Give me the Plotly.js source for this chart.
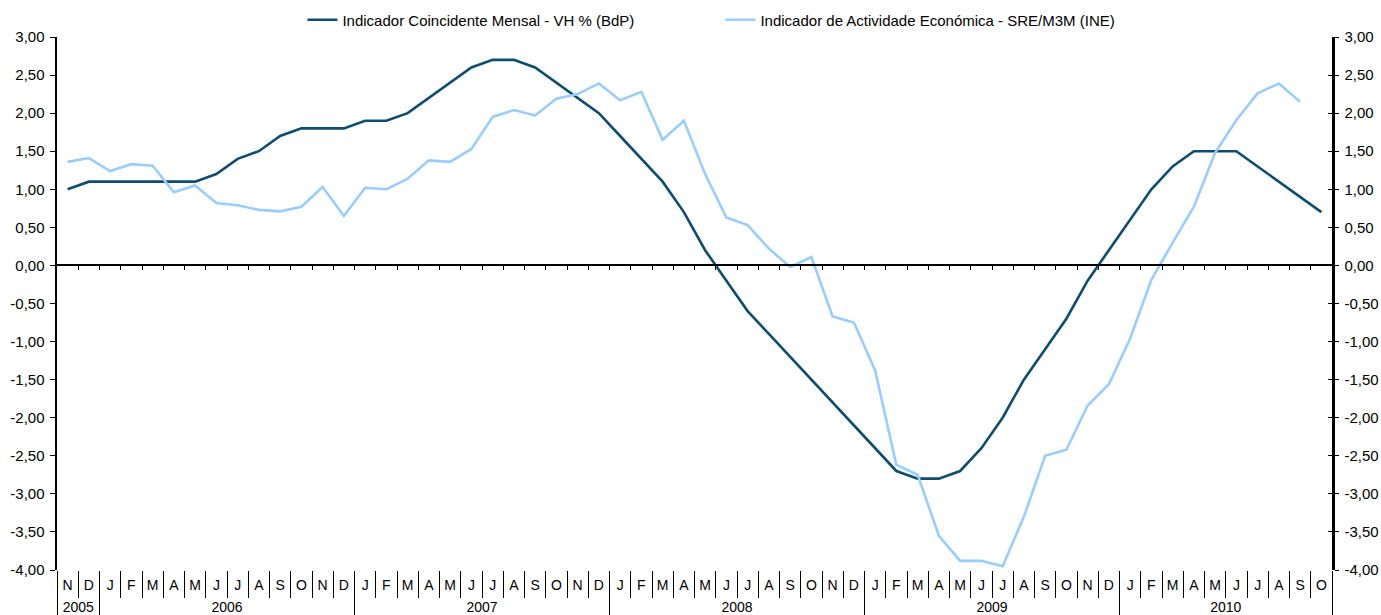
<!DOCTYPE html>
<html>
<head>
<meta charset="utf-8">
<script src="https://cdn.plot.ly/plotly-3.0.1.min.js"></script>
<style>
  html, body { margin: 0; padding: 0; background: #ffffff; }
  #chart { width: 1381px; height: 615px; }
</style>
</head>
<body>
<div id="chart"></div>
<script>
// ---- data ----
const monthLabels = [
  "N","D",
  "J","F","M","A","M","J","J","A","S","O","N","D",
  "J","F","M","A","M","J","J","A","S","O","N","D",
  "J","F","M","A","M","J","J","A","S","O","N","D",
  "J","F","M","A","M","J","J","A","S","O","N","D",
  "J","F","M","A","M","J","J","A","S","O"
];
const yearLabels = ["2005","2006","2007","2008","2009","2010"];
const monthsPerYear = [2, 12, 12, 12, 12, 10];

const seriesBdPName = "Indicador Coincidente Mensal - VH % (BdP)";
const seriesBdP = [
  1.0, 1.1,
  1.1, 1.1, 1.1, 1.1, 1.1, 1.2, 1.4, 1.5, 1.7, 1.8, 1.8, 1.8,
  1.9, 1.9, 2.0, 2.2, 2.4, 2.6, 2.7, 2.7, 2.6, 2.4, 2.2, 2.0,
  1.7, 1.4, 1.1, 0.7, 0.2, -0.2, -0.6, -0.9, -1.2, -1.5, -1.8, -2.1,
  -2.4, -2.7, -2.8, -2.8, -2.7, -2.4, -2.0, -1.5, -1.1, -0.7, -0.2, 0.2,
  0.6, 1.0, 1.3, 1.5, 1.5, 1.5, 1.3, 1.1, 0.9, 0.7
];

const seriesINEName = "Indicador de Actividade Económica - SRE/M3M (INE)";
const seriesINE = [
  1.36, 1.41,
  1.24, 1.33, 1.31, 0.96, 1.05, 0.82, 0.79, 0.73, 0.71, 0.77, 1.03, 0.65,
  1.02, 1.00, 1.14, 1.38, 1.36, 1.53, 1.95, 2.04, 1.97, 2.19, 2.25, 2.39,
  2.17, 2.28, 1.65, 1.90, 1.20, 0.63, 0.53, 0.22, -0.02, 0.11, -0.67, -0.75,
  -1.38, -2.62, -2.75, -3.55, -3.88, -3.88, -3.95, -3.30, -2.50, -2.42, -1.84, -1.56,
  -0.96, -0.19, 0.30, 0.77, 1.48, 1.91, 2.26, 2.39, 2.15, null
];

const yTickValues = [3, 2.5, 2, 1.5, 1, 0.5, 0, -0.5, -1, -1.5, -2, -2.5, -3, -3.5, -4];
const yTickLabels = ["3,00","2,50","2,00","1,50","1,00","0,50","0,00","-0,50","-1,00","-1,50","-2,00","-2,50","-3,00","-3,50","-4,00"];

// ---- derived positions (through axes) ----
const n = monthLabels.length;
const idx = monthLabels.map((_, i) => i);
const monthBounds = [];
for (let i = 0; i <= n; i++) monthBounds.push(i - 0.5);
const yearBounds = [-0.5];
const yearCenters = [];
let acc = 0;
monthsPerYear.forEach(c => {
  yearCenters.push(acc + (c - 1) / 2);
  acc += c;
  yearBounds.push(acc - 0.5);
});
const yMin = -4, yMax = 3;
const xRange = [-0.5, n - 0.5];

const FONT = "Liberation Sans, Arial, sans-serif";
const DARK = "#0e4d6d";
const LIGHT = "#99ccff";

// empty helper traces so that the decorative overlay axes get drawn
function helper(xa, ya) {
  return { x: [], y: [], type: "scatter", mode: "lines", xaxis: xa, yaxis: ya,
           showlegend: false, hoverinfo: "skip" };
}

const traces = [
  { x: idx, y: seriesBdP, name: seriesBdPName, type: "scatter", mode: "lines",
    line: { color: DARK, width: 2.6 }, xaxis: "x", yaxis: "y" },
  { x: idx, y: seriesINE, name: seriesINEName, type: "scatter", mode: "lines",
    line: { color: LIGHT, width: 2.6 }, xaxis: "x", yaxis: "y", connectgaps: false },
  helper("x2", "y"), helper("x3", "y"), helper("x4", "y"), helper("x5", "y"),
  helper("x", "y2"), helper("x", "y3")
];

const baseX = { range: xRange, showgrid: false, zeroline: false, fixedrange: true };

const layout = {
  width: 1381, height: 615,
  margin: { l: 57, r: 49, t: 37, b: 45, pad: 0, autoexpand: false },
  paper_bgcolor: "#ffffff", plot_bgcolor: "#ffffff",
  font: { family: FONT, size: 14, color: "#000000" },
  showlegend: true,
  legend: {
    orientation: "h", x: 0.1925, xanchor: "left", y: 1.032, yanchor: "middle",
    font: { family: FONT, size: 15, color: "#000000" },
    entrywidth: 373, entrywidthmode: "pixels",
    bgcolor: "rgba(0,0,0,0)", borderwidth: 0
  },
  // month labels
  xaxis: Object.assign({}, baseX, {
    type: "linear", anchor: "y", side: "bottom",
    tickmode: "array", tickvals: idx, ticktext: monthLabels,
    ticks: "", showline: false, showticklabels: true,
    tickfont: { family: FONT, size: 14, color: "#000" },
    ticklabelstandoff: 5
  }),
  // zero line with boundary ticks
  xaxis2: Object.assign({}, baseX, {
    type: "linear", overlaying: "x", anchor: "free",
    position: (0 - yMin) / (yMax - yMin), side: "bottom",
    tickmode: "array", tickvals: monthBounds.slice(1, -1),
    ticks: "outside", ticklen: 4, tickwidth: 1, tickcolor: "#000",
    showline: true, linecolor: "#000", linewidth: 2, showticklabels: false
  }),
  // month separators
  xaxis3: Object.assign({}, baseX, {
    type: "linear", overlaying: "x", anchor: "y", side: "bottom",
    tickmode: "array", tickvals: monthBounds,
    ticks: "outside", ticklen: 27, tickwidth: 1, tickcolor: "#000",
    showline: false, showticklabels: false
  }),
  // year separators
  xaxis4: Object.assign({}, baseX, {
    type: "linear", overlaying: "x", anchor: "y", side: "bottom",
    tickmode: "array", tickvals: yearBounds,
    ticks: "outside", ticklen: 46, tickwidth: 1, tickcolor: "#000",
    showline: false, showticklabels: false
  }),
  // year labels
  xaxis5: Object.assign({}, baseX, {
    type: "linear", overlaying: "x", anchor: "y", side: "bottom",
    tickmode: "array", tickvals: yearCenters, ticktext: yearLabels,
    ticks: "", showline: false, showticklabels: true,
    tickfont: { family: FONT, size: 14, color: "#000" },
    ticklabelstandoff: 27
  }),
  yaxis: {
    range: [yMin, yMax], tickmode: "array", tickvals: yTickValues, ticktext: yTickLabels,
    ticks: "outside", ticklen: 5, tickwidth: 1, tickcolor: "#000",
    showline: true, linecolor: "#000", linewidth: 2.5, showgrid: false, zeroline: false,
    tickfont: { family: FONT, size: 15, color: "#000" }, ticklabelstandoff: 2,
    fixedrange: true
  },
  yaxis2: {
    range: [yMin, yMax], overlaying: "y", side: "right", anchor: "x",
    tickmode: "array", tickvals: yTickValues, ticktext: yTickLabels,
    ticks: "outside", ticklen: 4, tickwidth: 1, tickcolor: "#000",
    showline: true, linecolor: "#000", linewidth: 2.5, showgrid: false, zeroline: false,
    tickfont: { family: FONT, size: 15, color: "#000" }, ticklabelstandoff: 3,
    fixedrange: true
  },
  yaxis3: {
    range: [yMin, yMax], overlaying: "y", side: "right", anchor: "x",
    tickmode: "array", tickvals: yTickValues,
    ticks: "inside", ticklen: 4, tickwidth: 1, tickcolor: "#000",
    showline: false, showgrid: false, zeroline: false, showticklabels: false,
    fixedrange: true
  }
};

Plotly.newPlot("chart", traces, layout, { displayModeBar: false, staticPlot: true });
</script>
</body>
</html>
